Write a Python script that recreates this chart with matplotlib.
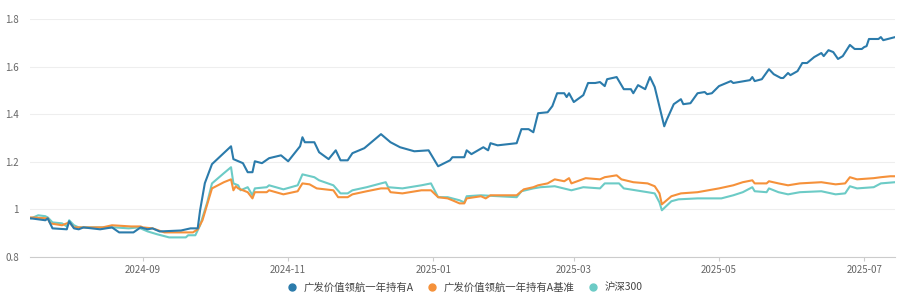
import matplotlib
matplotlib.use('Agg')
import matplotlib.pyplot as plt
import matplotlib.dates as mdates
import pandas as pd

plt.rcParams['font.family'] = ['Noto Sans CJK SC', 'DejaVu Sans']

# 广发价值领航一年持有A (net value, normalised)
fund_dates = ['2024-07-16', '2024-07-22', '2024-07-23', '2024-07-25', '2024-07-31', '2024-08-01',
              '2024-08-03', '2024-08-05', '2024-08-07', '2024-08-14', '2024-08-19', '2024-08-22',
              '2024-08-28', '2024-08-31', '2024-09-03', '2024-09-05', '2024-09-08', '2024-09-17',
              '2024-09-21', '2024-09-24', '2024-09-25', '2024-09-27', '2024-09-30', '2024-10-08',
              '2024-10-09', '2024-10-13', '2024-10-15', '2024-10-17', '2024-10-18', '2024-10-21',
              '2024-10-24', '2024-10-29', '2024-11-01', '2024-11-06', '2024-11-07', '2024-11-08',
              '2024-11-12', '2024-11-14', '2024-11-18', '2024-11-21', '2024-11-23', '2024-11-26',
              '2024-11-28', '2024-12-03', '2024-12-10', '2024-12-14', '2024-12-18', '2024-12-24',
              '2024-12-30', '2025-01-03', '2025-01-08', '2025-01-09', '2025-01-14', '2025-01-15',
              '2025-01-17', '2025-01-22', '2025-01-24', '2025-01-25', '2025-01-28', '2025-02-05',
              '2025-02-07', '2025-02-10', '2025-02-12', '2025-02-14', '2025-02-18', '2025-02-20',
              '2025-02-22', '2025-02-25', '2025-02-26', '2025-02-27', '2025-03-01', '2025-03-05',
              '2025-03-07', '2025-03-10', '2025-03-12', '2025-03-14', '2025-03-15', '2025-03-19',
              '2025-03-22', '2025-03-25', '2025-03-26', '2025-03-28', '2025-03-31', '2025-04-02',
              '2025-04-04', '2025-04-08', '2025-04-09', '2025-04-12', '2025-04-15', '2025-04-16',
              '2025-04-19', '2025-04-22', '2025-04-25', '2025-04-26', '2025-04-28', '2025-05-01',
              '2025-05-06', '2025-05-07', '2025-05-14', '2025-05-15', '2025-05-16', '2025-05-19',
              '2025-05-22', '2025-05-24', '2025-05-27', '2025-05-28', '2025-05-30', '2025-05-31',
              '2025-06-03', '2025-06-05', '2025-06-07', '2025-06-10', '2025-06-13', '2025-06-14',
              '2025-06-16', '2025-06-18', '2025-06-20', '2025-06-22', '2025-06-25', '2025-06-27',
              '2025-06-30', '2025-07-01', '2025-07-02', '2025-07-03', '2025-07-07', '2025-07-08',
              '2025-07-09', '2025-07-14']
fund_vals = [0.962, 0.954, 0.962, 0.920, 0.916, 0.950,
             0.920, 0.916, 0.924, 0.916, 0.924, 0.903,
             0.903, 0.924, 0.916, 0.920, 0.907, 0.911,
             0.920, 0.920, 0.996, 1.110, 1.190, 1.265,
             1.211, 1.194, 1.156, 1.156, 1.202, 1.194,
             1.215, 1.227, 1.202, 1.265, 1.303, 1.282,
             1.282, 1.240, 1.211, 1.248, 1.206, 1.206,
             1.236, 1.257, 1.316, 1.282, 1.261, 1.244,
             1.248, 1.181, 1.206, 1.219, 1.219, 1.248,
             1.232, 1.261, 1.248, 1.278, 1.269, 1.278,
             1.337, 1.337, 1.324, 1.404, 1.408, 1.434,
             1.488, 1.488, 1.472, 1.488, 1.451, 1.480,
             1.531, 1.531, 1.535, 1.518, 1.547, 1.556,
             1.505, 1.505, 1.488, 1.522, 1.505, 1.556,
             1.514, 1.349, 1.375, 1.442, 1.463, 1.442,
             1.446, 1.488, 1.493, 1.484, 1.488, 1.518,
             1.539, 1.531, 1.543, 1.556, 1.539, 1.547,
             1.589, 1.568, 1.552, 1.552, 1.573, 1.564,
             1.581, 1.615, 1.615, 1.640, 1.657, 1.644,
             1.669, 1.661, 1.632, 1.644, 1.691, 1.674,
             1.674, 1.682, 1.686, 1.716, 1.716, 1.724,
             1.711, 1.724]

# 广发价值领航一年持有A基准
bench_dates = ['2024-07-16', '2024-07-23', '2024-07-24', '2024-07-29', '2024-08-01', '2024-08-03',
               '2024-08-06', '2024-08-15', '2024-08-19', '2024-08-27', '2024-08-31', '2024-09-01',
               '2024-09-05', '2024-09-10', '2024-09-22', '2024-09-24', '2024-09-26', '2024-09-30',
               '2024-10-05', '2024-10-08', '2024-10-09', '2024-10-10', '2024-10-11', '2024-10-15',
               '2024-10-17', '2024-10-18', '2024-10-23', '2024-10-24', '2024-10-30', '2024-11-05',
               '2024-11-06', '2024-11-07', '2024-11-10', '2024-11-13', '2024-11-20', '2024-11-22',
               '2024-11-26', '2024-11-28', '2024-12-04', '2024-12-10', '2024-12-13', '2024-12-14',
               '2024-12-19', '2024-12-27', '2024-12-31', '2025-01-03', '2025-01-07', '2025-01-09',
               '2025-01-12', '2025-01-14', '2025-01-15', '2025-01-21', '2025-01-23', '2025-01-25',
               '2025-02-05', '2025-02-08', '2025-02-12', '2025-02-14', '2025-02-18', '2025-02-21',
               '2025-02-25', '2025-02-27', '2025-02-28', '2025-03-06', '2025-03-12', '2025-03-14',
               '2025-03-19', '2025-03-21', '2025-03-26', '2025-04-01', '2025-04-04', '2025-04-06',
               '2025-04-07', '2025-04-11', '2025-04-15', '2025-04-22', '2025-05-01', '2025-05-07',
               '2025-05-11', '2025-05-15', '2025-05-16', '2025-05-21', '2025-05-22', '2025-05-26',
               '2025-05-30', '2025-06-04', '2025-06-13', '2025-06-19', '2025-06-23', '2025-06-25',
               '2025-06-28', '2025-07-05', '2025-07-08', '2025-07-12', '2025-07-14']
bench_vals = [0.966, 0.962, 0.941, 0.933, 0.945, 0.924,
              0.924, 0.924, 0.933, 0.928, 0.928, 0.924,
              0.920, 0.903, 0.903, 0.916, 0.954, 1.088,
              1.114, 1.126, 1.080, 1.097, 1.088, 1.072,
              1.046, 1.072, 1.072, 1.080, 1.063, 1.076,
              1.093, 1.109, 1.105, 1.088, 1.080, 1.051,
              1.051, 1.063, 1.076, 1.088, 1.088, 1.072,
              1.067, 1.080, 1.080, 1.051, 1.046, 1.038,
              1.025, 1.025, 1.046, 1.055, 1.046, 1.059,
              1.059, 1.084, 1.093, 1.101, 1.109, 1.126,
              1.118, 1.131, 1.109, 1.131, 1.126, 1.135,
              1.143, 1.126, 1.114, 1.109, 1.097, 1.067,
              1.021, 1.055, 1.067, 1.072, 1.088, 1.101,
              1.114, 1.122, 1.109, 1.109, 1.118, 1.109,
              1.101, 1.109, 1.114, 1.105, 1.109, 1.135,
              1.126, 1.131, 1.135, 1.139, 1.139]

# 沪深300
hs300_dates = ['2024-07-16', '2024-07-19', '2024-07-22', '2024-07-23', '2024-07-25', '2024-07-29',
               '2024-07-31', '2024-08-01', '2024-08-03', '2024-08-05', '2024-08-15', '2024-08-20',
               '2024-08-26', '2024-08-30', '2024-09-03', '2024-09-07', '2024-09-12', '2024-09-19',
               '2024-09-20', '2024-09-23', '2024-09-25', '2024-09-28', '2024-09-30', '2024-10-05',
               '2024-10-08', '2024-10-09', '2024-10-11', '2024-10-12', '2024-10-15', '2024-10-17',
               '2024-10-18', '2024-10-23', '2024-10-24', '2024-10-30', '2024-11-05', '2024-11-07',
               '2024-11-12', '2024-11-14', '2024-11-20', '2024-11-23', '2024-11-26', '2024-11-28',
               '2024-12-04', '2024-12-10', '2024-12-12', '2024-12-13', '2024-12-19', '2024-12-27',
               '2024-12-31', '2025-01-03', '2025-01-07', '2025-01-12', '2025-01-14', '2025-01-15',
               '2025-01-21', '2025-02-05', '2025-02-07', '2025-02-12', '2025-02-15', '2025-02-21',
               '2025-02-28', '2025-03-05', '2025-03-12', '2025-03-14', '2025-03-20', '2025-03-22',
               '2025-04-01', '2025-04-04', '2025-04-06', '2025-04-07', '2025-04-11', '2025-04-14',
               '2025-04-22', '2025-05-02', '2025-05-07', '2025-05-11', '2025-05-15', '2025-05-16',
               '2025-05-21', '2025-05-22', '2025-05-26', '2025-05-30', '2025-06-04', '2025-06-13',
               '2025-06-19', '2025-06-23', '2025-06-25', '2025-06-28', '2025-07-05', '2025-07-08',
               '2025-07-14']
hs300_vals = [0.962, 0.975, 0.971, 0.966, 0.945, 0.941,
              0.928, 0.954, 0.933, 0.924, 0.924, 0.924,
              0.920, 0.924, 0.907, 0.895, 0.882, 0.882,
              0.891, 0.891, 0.933, 1.029, 1.109, 1.152,
              1.177, 1.109, 1.101, 1.080, 1.093, 1.059,
              1.088, 1.093, 1.101, 1.084, 1.101, 1.147,
              1.135, 1.122, 1.101, 1.067, 1.067, 1.080,
              1.093, 1.109, 1.114, 1.093, 1.088, 1.101,
              1.109, 1.051, 1.051, 1.038, 1.029, 1.055,
              1.059, 1.051, 1.076, 1.088, 1.093, 1.097,
              1.080, 1.093, 1.088, 1.109, 1.109, 1.088,
              1.072, 1.067, 1.029, 0.996, 1.034, 1.042,
              1.046, 1.046, 1.059, 1.072, 1.093, 1.076,
              1.072, 1.088, 1.072, 1.063, 1.072, 1.076,
              1.063, 1.067, 1.097, 1.088, 1.093, 1.109,
              1.114]

series_names = ['广发价值领航一年持有A', '广发价值领航一年持有A基准', '沪深300']
colors = ['#2b7bab', '#f5913a', '#6ccbc6']
y_ticks = [0.8, 1.0, 1.2, 1.4, 1.6, 1.8]
y_labels = ['0.8', '1', '1.2', '1.4', '1.6', '1.8']
x_ticks = ['2024-09-01', '2024-11-01', '2025-01-01', '2025-03-01', '2025-05-01', '2025-07-01']

fig = plt.figure(figsize=(9.06, 2.97), dpi=100)
ax = fig.add_axes([0.033, 0.135, 0.955, 0.801])

all_series = [(fund_dates, fund_vals), (bench_dates, bench_vals), (hs300_dates, hs300_vals)]
# draw the fund last so it sits on top
for k in [2, 1, 0]:
    d, v = all_series[k]
    ax.plot(pd.to_datetime(d), v, color=colors[k], lw=1.5, solid_joinstyle='round', zorder=3 + (2 - k))

ax.set_ylim(0.8, 1.8)
ax.set_xlim(pd.Timestamp('2024-07-15 12:00'), pd.Timestamp('2025-07-14'))
ax.set_yticks(y_ticks)
ax.set_yticklabels(y_labels)
ax.set_xticks(pd.to_datetime(x_ticks))
ax.xaxis.set_major_formatter(mdates.DateFormatter('%Y-%m'))

ax.grid(axis='y', color='#eeeeee', lw=0.8)
ax.set_axisbelow(True)
for s in ['top', 'right', 'left']:
    ax.spines[s].set_visible(False)
ax.spines['bottom'].set_color('#cccccc')
ax.tick_params(axis='y', length=0, labelsize=7, labelcolor='#666666', pad=8)
ax.tick_params(axis='x', length=3, color='#cccccc', labelsize=7, labelcolor='#666666', pad=3)

handles = [plt.Line2D([], [], marker='o', ls='', color=c, markersize=5) for c in colors]
fig.legend(handles, series_names, loc='center', bbox_to_anchor=(0.51, 0.033), ncol=3,
           frameon=False, fontsize=7.5, handletextpad=0.1, columnspacing=0.8,
           labelcolor='#444444')

fig.savefig('out.png', dpi=100)
